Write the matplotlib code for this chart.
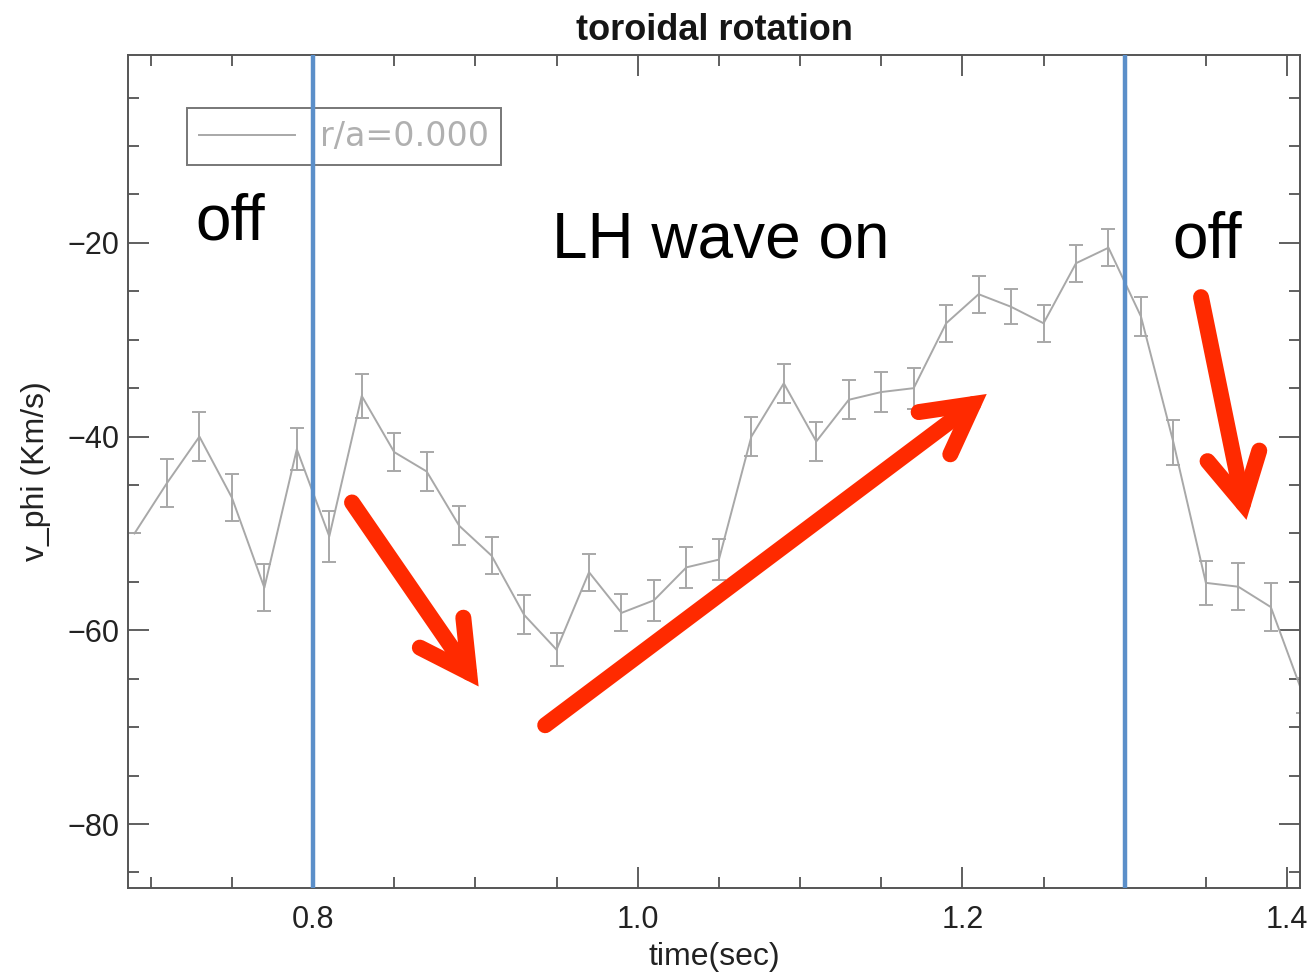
import matplotlib
matplotlib.use("Agg")
import matplotlib.pyplot as plt
from matplotlib.ticker import MultipleLocator
from matplotlib.patches import FancyArrowPatch
from matplotlib import font_manager

# ---- data ----
time = [0.69, 0.71, 0.73, 0.75, 0.77, 0.79, 0.81, 0.83, 0.85, 0.87, 0.89, 0.91,
        0.93, 0.95, 0.97, 0.99, 1.01, 1.03, 1.05, 1.07, 1.09, 1.11, 1.13, 1.15,
        1.17, 1.19, 1.21, 1.23, 1.25, 1.27, 1.29, 1.31, 1.33, 1.35, 1.37, 1.39, 1.41]
v_phi = [-50.0, -44.8, -40.0, -46.3, -55.6, -41.3, -50.3, -35.8, -41.6, -43.6, -49.2, -52.3,
         -58.4, -62.0, -54.0, -58.2, -56.9, -53.5, -52.7, -40.0, -34.5, -40.5, -36.2, -35.4,
         -35.0, -28.3, -25.3, -26.6, -28.3, -22.1, -20.5, -27.6, -40.6, -55.1, -55.5, -57.6, -66.7]
v_err = [0.0, 2.5, 2.5, 2.4, 2.4, 2.2, 2.6, 2.3, 2.0, 2.0, 2.0, 1.9,
         2.0, 1.7, 1.9, 1.9, 2.1, 2.1, 2.1, 2.0, 2.0, 2.0, 2.0, 2.1,
         2.1, 1.9, 1.9, 1.8, 1.9, 1.9, 1.9, 2.0, 2.3, 2.3, 2.4, 2.5, 1.8]
lh_on, lh_off = 0.8, 1.3
x_ticks = [0.8, 1.0, 1.2, 1.4]
y_ticks = [-80, -60, -40, -20]
arrows = [((0.824, -46.8), (0.902, -65.8)),
          ((0.943, -69.8), (1.215, -35.6)),
          ((1.347, -25.6), (1.375, -48.6))]

installed = {f.name for f in font_manager.fontManager.ttflist}
narrow = ['Liberation Sans Narrow'] if 'Liberation Sans Narrow' in installed else []
plt.rcParams['font.family'] = ['Liberation Sans', 'DejaVu Sans']
narrow_fam = narrow + ['Liberation Sans', 'DejaVu Sans']

fig = plt.figure(figsize=(13.10, 9.73), dpi=100)
ax = fig.add_axes([0.0977, 0.0874, 0.8947, 0.8561])

eb = ax.errorbar(time, v_phi, yerr=v_err, color='#a8a8a8', lw=1.4,
                 elinewidth=1.4, capsize=5, capthick=1.4, zorder=2)

ax.axvline(lh_on, color='#5b8fc9', lw=3.2, zorder=3)
ax.axvline(lh_off, color='#5b8fc9', lw=3.2, zorder=3)

for (x0, y0), (x1, y1) in arrows:
    arr = FancyArrowPatch((x0, y0), (x1, y1),
                          arrowstyle='->,head_length=1.75,head_width=0.95',
                          color='#ff2a00', lw=11.5, capstyle='round',
                          joinstyle='miter', mutation_scale=20,
                          shrinkA=0, shrinkB=0, zorder=4)
    ax.add_patch(arr)

ax.set_xlim(0.686, 1.408)
ax.set_ylim(-86.6, -0.6)
ax.set_xticks(x_ticks)
ax.set_yticks(y_ticks)
ax.set_xticklabels([f"{t:.1f}" for t in x_ticks])
ax.set_yticklabels([f"\u2212{abs(t)}" for t in y_ticks])
for lab in ax.get_xticklabels() + ax.get_yticklabels():
    lab.set_family(narrow_fam)
ax.xaxis.set_minor_locator(MultipleLocator(0.05))
ax.yaxis.set_minor_locator(MultipleLocator(5))
ax.tick_params(which='both', direction='in', top=True, right=True,
               color='#444444', width=1.2)
ax.tick_params(which='major', length=15, labelsize=22, labelcolor='#222222')
ax.tick_params(axis='x', which='major', pad=12)
ax.tick_params(axis='y', which='major', pad=6)
ax.tick_params(which='minor', length=8)
for s in ax.spines.values():
    s.set_color('#555555')
    s.set_linewidth(1.4)

ax.set_xlabel('time(sec)', fontsize=23, color='#222222', labelpad=5, family=narrow_fam)
ax.set_ylabel('v_phi (Km/s)', fontsize=23, color='#222222', labelpad=12)
ax.set_title('toroidal rotation', fontsize=26, fontweight='bold', color='#151515', pad=11)

leg = ax.legend(handles=[eb[0]], labels=['r/a=0.000'], loc='upper left',
                bbox_to_anchor=(0.05, 0.936), fancybox=False,
                prop={'family': 'DejaVu Sans', 'size': 24},
                labelcolor='#b0b0b0', handlelength=2.9, borderpad=0.36,
                handletextpad=0.75, borderaxespad=0)
leg.get_frame().set_edgecolor('#555555')
leg.get_frame().set_linewidth(1.4)
leg.set_zorder(1)

ax.text(0.749, -19.7, 'off', fontsize=46, ha='center', va='baseline', zorder=5)
ax.text(1.051, -21.55, 'LH wave on', fontsize=46, ha='center', va='baseline', zorder=5)
ax.text(1.351, -21.55, 'off', fontsize=46, ha='center', va='baseline', zorder=5)

fig.savefig('out.png', dpi=100)
